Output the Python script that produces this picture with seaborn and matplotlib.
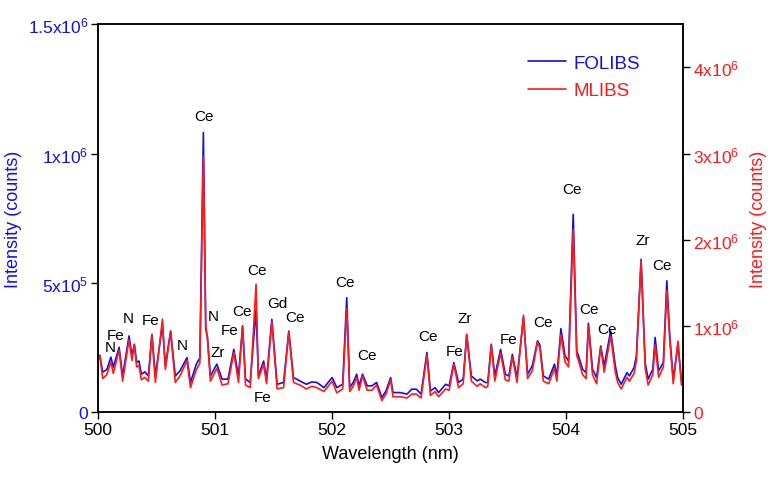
import matplotlib
matplotlib.use("Agg")
import matplotlib.pyplot as plt
import seaborn as sns
import pandas as pd

# ---------------- data ----------------
wavelength = [
    500.00, 500.015, 500.04, 500.075, 500.11, 500.13, 500.18, 500.21, 500.265, 500.29,
    500.31, 500.33, 500.35, 500.37, 500.40, 500.43, 500.46, 500.49, 500.55, 500.575,
    500.62, 500.66, 500.70, 500.76, 500.79, 500.84, 500.87, 500.90, 500.92, 500.935,
    500.96, 501.015, 501.06, 501.11, 501.16, 501.20, 501.235, 501.26, 501.30, 501.35,
    501.37, 501.415, 501.44, 501.485, 501.53, 501.585, 501.63, 501.67, 501.725, 501.78,
    501.825, 501.87, 501.93, 502.00, 502.04, 502.09, 502.125, 502.15, 502.18, 502.21,
    502.23, 502.26, 502.30, 502.34, 502.38, 502.425, 502.46, 502.50, 502.52, 502.58,
    502.64, 502.68, 502.72, 502.76, 502.81, 502.84, 502.88, 502.91, 502.97, 503.00,
    503.04, 503.08, 503.12, 503.15, 503.19, 503.24, 503.265, 503.31, 503.33, 503.36,
    503.39, 503.44, 503.48, 503.51, 503.54, 503.58, 503.635, 503.67, 503.71, 503.755,
    503.775, 503.805, 503.85, 503.90, 503.92, 503.955, 503.99, 504.02, 504.06, 504.09,
    504.105, 504.14, 504.17, 504.19, 504.225, 504.26, 504.295, 504.325, 504.38, 504.42,
    504.44, 504.47, 504.52, 504.54, 504.58, 504.60, 504.64, 504.675, 504.70, 504.74,
    504.76, 504.79, 504.83, 504.86, 504.885, 504.915, 504.955, 504.985, 505.00,
]

# FOLIBS intensity, left axis, units of 1e5 counts
folibs_1e5 = [
    2.05, 2.20, 1.55, 1.65, 2.13, 1.74, 2.51, 1.40, 2.95, 2.18,
    2.63, 1.93, 1.98, 1.47, 1.56, 1.40, 3.01, 1.40, 3.40, 1.79,
    3.14, 1.40, 1.60, 2.11, 1.15, 1.86, 2.10, 10.81, 3.21, 2.90,
    1.40, 1.86, 1.28, 1.28, 2.43, 1.40, 3.34, 1.28, 1.15, 3.98,
    1.40, 1.98, 1.28, 3.59, 1.08, 1.15, 3.14, 1.34, 1.21, 1.08,
    1.17, 1.15, 0.95, 1.34, 0.95, 1.08, 4.43, 0.95, 1.15, 1.47,
    1.02, 1.47, 1.02, 1.02, 1.15, 0.57, 0.82, 1.34, 0.76, 0.76,
    0.70, 0.89, 0.89, 0.70, 2.31, 0.82, 0.95, 0.76, 1.08, 1.02,
    1.92, 1.15, 1.28, 3.01, 1.40, 1.21, 1.28, 1.15, 1.15, 2.63,
    1.40, 2.43, 1.47, 1.40, 2.24, 1.34, 3.66, 1.47, 1.79, 2.76,
    2.60, 1.40, 1.28, 1.86, 1.40, 3.23, 2.18, 1.98, 7.65, 2.37,
    2.18, 1.66, 1.53, 3.44, 1.66, 1.34, 2.56, 1.79, 3.14, 1.79,
    1.34, 1.08, 1.53, 1.40, 1.73, 2.18, 5.91, 1.92, 1.28, 1.66,
    2.89, 1.60, 1.92, 5.08, 2.95, 1.28, 2.63, 1.21, 1.30,
]

# MLIBS intensity, right axis, units of 1e5 counts
mlibs_1e5 = [
    6.00, 6.60, 3.90, 4.35, 5.85, 4.50, 7.20, 3.60, 8.40, 6.00,
    7.80, 5.25, 5.40, 3.75, 4.05, 3.60, 9.00, 3.45, 10.80, 4.95,
    9.30, 3.45, 4.20, 6.00, 2.85, 4.95, 5.70, 29.70, 10.20, 8.40,
    3.60, 5.10, 3.15, 3.30, 6.90, 3.45, 9.90, 3.15, 2.85, 14.85,
    3.90, 5.55, 3.30, 10.50, 2.70, 2.85, 9.30, 3.45, 3.15, 2.70,
    3.00, 2.85, 2.40, 3.60, 2.25, 2.70, 12.00, 2.40, 3.00, 4.05,
    2.55, 4.20, 2.55, 2.55, 3.15, 1.35, 2.10, 3.75, 1.80, 1.80,
    1.65, 2.10, 2.10, 1.65, 6.60, 1.95, 2.40, 1.80, 2.70, 2.55,
    5.55, 2.85, 3.30, 9.00, 3.60, 3.00, 3.30, 2.85, 3.00, 7.80,
    3.60, 6.90, 3.75, 3.60, 6.45, 3.45, 11.25, 3.90, 4.80, 8.10,
    7.50, 3.60, 3.30, 5.10, 3.60, 9.00, 5.85, 5.25, 21.20, 6.60,
    6.00, 4.35, 3.90, 10.05, 4.35, 3.30, 7.50, 4.65, 8.85, 4.65,
    3.45, 2.70, 4.05, 3.60, 4.50, 6.00, 17.55, 5.10, 3.15, 4.35,
    7.80, 4.05, 5.25, 14.10, 8.40, 3.30, 8.25, 3.15, 3.30,
]

# peak labels: element, wavelength (nm), height on left axis (1e5 counts)
label_text = ["N", "Fe", "N", "Fe", "N", "Ce", "N", "Zr", "Fe", "Ce", "Ce", "Gd", "Ce",
              "Fe", "Ce", "Ce", "Ce", "Fe", "Zr", "Fe", "Ce", "Ce", "Ce", "Ce", "Zr", "Ce"]
label_wl = [500.103, 500.154, 500.256, 500.453, 500.718, 500.906, 500.983, 501.026,
            501.128, 501.231, 501.359, 501.530, 501.684, 501.402, 502.111, 502.299,
            502.821, 503.043, 503.137, 503.504, 503.803, 504.051, 504.197, 504.350,
            504.650, 504.821]
label_h_1e5 = [2.51, 2.98, 3.63, 3.56, 2.59, 11.44, 3.71, 2.32, 3.17, 3.90, 5.49, 4.21,
               3.67, 0.58, 5.03, 2.20, 2.94, 2.36, 3.63, 2.82, 3.48, 8.62, 3.98, 3.21,
               6.65, 5.68]

x_ticks = [500, 501, 502, 503, 504, 505]
left_ticks = [0, 5e5, 1e6, 1.5e6]
left_tick_labels = ["0", r"5x10$^5$", r"1x10$^6$", r"1.5x10$^6$"]
right_ticks = [0, 1e6, 2e6, 3e6, 4e6]
right_tick_labels = ["0", r"1x10$^6$", r"2x10$^6$", r"3x10$^6$", r"4x10$^6$"]

# ---------------- style ----------------
sns.set_theme(style="ticks")
plt.rcParams["font.family"] = ["Liberation Sans", "DejaVu Sans"]
plt.rcParams["mathtext.fontset"] = "custom"
plt.rcParams["mathtext.rm"] = "Liberation Sans"
plt.rcParams["mathtext.it"] = "Liberation Sans"

BLUE = "#1010e8"
RED = "#ff1a1a"

df = pd.DataFrame({
    "wl": wavelength,
    "folibs": [v * 1e5 for v in folibs_1e5],
    "mlibs": [v * 1e5 for v in mlibs_1e5],
})

fig = plt.figure(figsize=(7.72, 4.85), dpi=100)
ax = fig.add_axes([0.127, 0.148, 0.758, 0.800])
ax2 = ax.twinx()

sns.lineplot(data=df, x="wl", y="folibs", ax=ax, color=BLUE, linewidth=1.2,
             legend=False, solid_joinstyle="round")
sns.lineplot(data=df, x="wl", y="mlibs", ax=ax2, color=RED, linewidth=1.2,
             legend=False, solid_joinstyle="round")

ax.set_xlim(500, 505)
ax.set_ylim(0, 1.5e6)
ax2.set_ylim(0, 4.5e6)

ax.set_xticks(x_ticks)
ax.set_xticklabels([str(t) for t in x_ticks], fontsize=12.5, color="black")
ax.set_yticks(left_ticks)
ax.set_yticklabels(left_tick_labels, fontsize=12.5, color=BLUE)
ax2.set_yticks(right_ticks)
ax2.set_yticklabels(right_tick_labels, fontsize=12.5, color=RED)

ax.set_xlabel("Wavelength (nm)", fontsize=13, color="black", labelpad=6)
ax.set_ylabel("Intensity (counts)", fontsize=13, color=BLUE, labelpad=4)
ax2.set_ylabel("Intensity (counts)", fontsize=13, color=RED, rotation=90, labelpad=8)

for a in (ax, ax2):
    a.tick_params(direction="out", length=5, width=1.0, colors="black", pad=2)
    for s in a.spines.values():
        s.set_linewidth(1.1)
        s.set_color("black")
        s.set_visible(True)
for lab in ax.get_yticklabels():
    lab.set_color(BLUE)
for lab in ax2.get_yticklabels():
    lab.set_color(RED)

for t, w, h in zip(label_text, label_wl, label_h_1e5):
    ax.text(w, h * 1e5, t, fontsize=11, ha="center", va="center", color="black")

h1 = ax.get_lines()[0]
h2 = ax2.get_lines()[0]
ax2.legend([h1, h2], ["FOLIBS", "MLIBS"], loc="upper right",
           bbox_to_anchor=(0.955, 0.965), frameon=False, fontsize=13.5,
           labelcolor=[BLUE, RED], handlelength=2.0, handletextpad=0.4,
           labelspacing=0.55)

fig.savefig("out.png", dpi=100)
